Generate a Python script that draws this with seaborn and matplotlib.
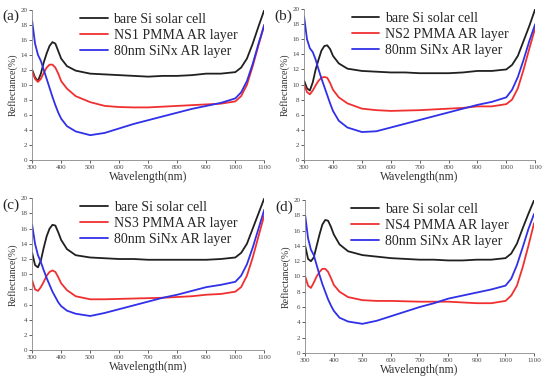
import numpy as np
import pandas as pd
import seaborn as sns
import matplotlib
matplotlib.use("Agg")
import matplotlib.pyplot as plt

# ============================================
# DATA
# ============================================

wavelength = [300, 310, 320, 330, 340, 350, 360, 370, 380, 390, 400, 420, 450,
              500, 550, 600, 650, 700, 750, 800, 850, 900, 950, 1000, 1020,
              1040, 1060, 1080, 1100]

# bare Si solar cell
bare_a = [12.0, 11.0, 10.5, 11.5, 13.0, 14.2, 15.2, 15.7, 15.5, 14.5, 13.5, 12.5, 11.9,
          11.5, 11.4, 11.3, 11.2, 11.1, 11.2, 11.2, 11.3, 11.5, 11.5, 11.7, 12.3,
          13.5, 15.5, 17.8, 20.0]
bare_b = [10.5, 9.5, 9.2, 10.3, 12.0, 13.3, 14.5, 15.1, 15.2, 14.7, 13.8, 12.8, 12.1,
          11.8, 11.7, 11.6, 11.6, 11.5, 11.5, 11.5, 11.6, 11.8, 11.8, 12.0, 12.6,
          13.8, 15.8, 17.8, 20.0]
bare_c = [12.8, 11.2, 10.9, 11.8, 13.5, 15.0, 16.0, 16.5, 16.4, 15.5, 14.5, 13.3, 12.5,
          12.2, 12.1, 12.0, 12.0, 11.9, 11.9, 11.9, 11.9, 11.9, 12.0, 12.2, 12.8,
          14.0, 16.0, 18.0, 20.0]
bare_d = [14.0, 12.3, 12.0, 12.5, 14.0, 15.5, 16.8, 17.4, 17.3, 16.5, 15.5, 14.2, 13.3,
          12.8, 12.6, 12.4, 12.3, 12.2, 12.2, 12.1, 12.1, 12.2, 12.2, 12.4, 13.0,
          14.3, 16.3, 18.2, 20.0]

# NSx PMMA AR layer
pmma_a = [11.8, 10.8, 10.4, 10.8, 11.6, 12.3, 12.7, 12.7, 12.3, 11.5, 10.5, 9.5, 8.5,
          7.7, 7.2, 7.05, 7.0, 7.0, 7.1, 7.2, 7.3, 7.4, 7.5, 7.8, 8.5,
          10.0, 12.5, 15.3, 18.0]
pmma_b = [10.0, 9.0, 8.7, 9.2, 9.9, 10.5, 10.9, 11.0, 10.9, 10.2, 9.3, 8.3, 7.5,
          6.8, 6.6, 6.5, 6.55, 6.6, 6.7, 6.8, 6.9, 7.1, 7.1, 7.4, 8.0,
          9.5, 12.0, 14.8, 17.5]
pmma_c = [9.2, 8.0, 7.8, 8.3, 9.0, 9.8, 10.3, 10.5, 10.3, 9.6, 8.8, 7.9, 7.1,
          6.7, 6.7, 6.75, 6.8, 6.85, 6.9, 7.0, 7.1, 7.3, 7.4, 7.7, 8.3,
          9.8, 12.2, 15.0, 17.8]
pmma_d = [10.0, 8.8, 8.5, 9.2, 10.0, 10.6, 11.0, 11.0, 10.6, 9.8, 8.9, 8.0, 7.3,
          6.9, 6.8, 6.8, 6.75, 6.7, 6.7, 6.7, 6.6, 6.5, 6.5, 6.8, 7.5,
          8.8, 11.2, 14.0, 17.0]

# 80nm SiNx AR layer
sinx_a = [18.5, 15.5, 14.0, 13.2, 12.0, 10.8, 9.6, 8.4, 7.3, 6.3, 5.5, 4.5, 3.8,
          3.3, 3.6, 4.2, 4.8, 5.3, 5.8, 6.3, 6.8, 7.2, 7.6, 8.2, 9.0,
          10.5, 12.8, 15.5, 18.0]
sinx_b = [19.0, 16.0, 14.8, 14.3, 13.3, 12.0, 10.8, 9.7, 8.6, 7.5, 6.5, 5.2, 4.3,
          3.7, 3.8, 4.3, 4.8, 5.3, 5.8, 6.3, 6.8, 7.3, 7.7, 8.3, 9.3,
          11.0, 13.3, 15.8, 18.0]
sinx_c = [16.5, 14.0, 12.5, 11.6, 10.5, 9.5, 8.6, 7.7, 7.0, 6.3, 5.8, 5.2, 4.8,
          4.5, 4.9, 5.4, 5.9, 6.4, 6.9, 7.3, 7.8, 8.3, 8.6, 9.0, 9.8,
          11.3, 13.5, 16.0, 18.5]
sinx_d = [18.0, 15.0, 13.5, 12.8, 11.5, 10.2, 9.0, 8.0, 7.0, 6.2, 5.5, 4.6, 4.1,
          3.8, 4.2, 4.8, 5.4, 6.0, 6.5, 7.1, 7.5, 7.9, 8.3, 8.8, 9.7,
          11.5, 13.8, 16.2, 18.2]

panel_labels = ["(a)", "(b)", "(c)", "(d)"]
pmma_names = ["NS1 PMMA AR layer", "NS2 PMMA AR layer",
              "NS3 PMMA AR layer", "NS4 PMMA AR layer"]

bare_all = [bare_a, bare_b, bare_c, bare_d]
pmma_all = [pmma_a, pmma_b, pmma_c, pmma_d]
sinx_all = [sinx_a, sinx_b, sinx_c, sinx_d]

# ============================================
# PLOT
# ============================================

sns.set_style("ticks")
plt.rcParams['font.family'] = ['Liberation Serif', 'DejaVu Serif']

fig = plt.figure(figsize=(5.45, 3.79), dpi=100)

positions = [
    [0.059, 0.578, 0.426, 0.396],
    [0.558, 0.578, 0.424, 0.398],
    [0.059, 0.076, 0.426, 0.401],
    [0.560, 0.069, 0.420, 0.403],
]

for i in range(4):
    ax = fig.add_axes(positions[i])

    sns.lineplot(x=wavelength, y=bare_all[i], ax=ax, color='#202020',
                 linewidth=1.3, label="bare Si solar cell")
    sns.lineplot(x=wavelength, y=pmma_all[i], ax=ax, color='#f03030',
                 linewidth=1.3, label=pmma_names[i])
    sns.lineplot(x=wavelength, y=sinx_all[i], ax=ax, color='#3030e8',
                 linewidth=1.3, label="80nm SiNx AR layer")

    ax.set_xlim(300, 1100)
    ax.set_ylim(0, 20)
    ax.set_xticks(range(300, 1101, 100))
    ax.set_yticks(range(0, 21, 2))
    ax.tick_params(labelsize=5, length=2, width=0.6, pad=1.5, colors='#444444')
    ax.set_xlabel("Wavelength(nm)", fontsize=8.5, labelpad=1, color='#333333')
    ax.set_ylabel("Reflectance(%)", fontsize=7.2, labelpad=2, color='#333333')

    for side in ['top', 'right']:
        ax.spines[side].set_visible(False)
    for side in ['left', 'bottom']:
        ax.spines[side].set_linewidth(0.6)
        ax.spines[side].set_color('#888888')

    ax.legend(loc='upper center', bbox_to_anchor=(0.545, 1.065), frameon=False,
              fontsize=10, handlelength=2.0, handletextpad=0.4,
              labelspacing=0.22)

    ax.text(-0.13, 1.0, panel_labels[i], transform=ax.transAxes,
            fontsize=11, va='top', ha='left')

fig.savefig("out.png", dpi=100)
